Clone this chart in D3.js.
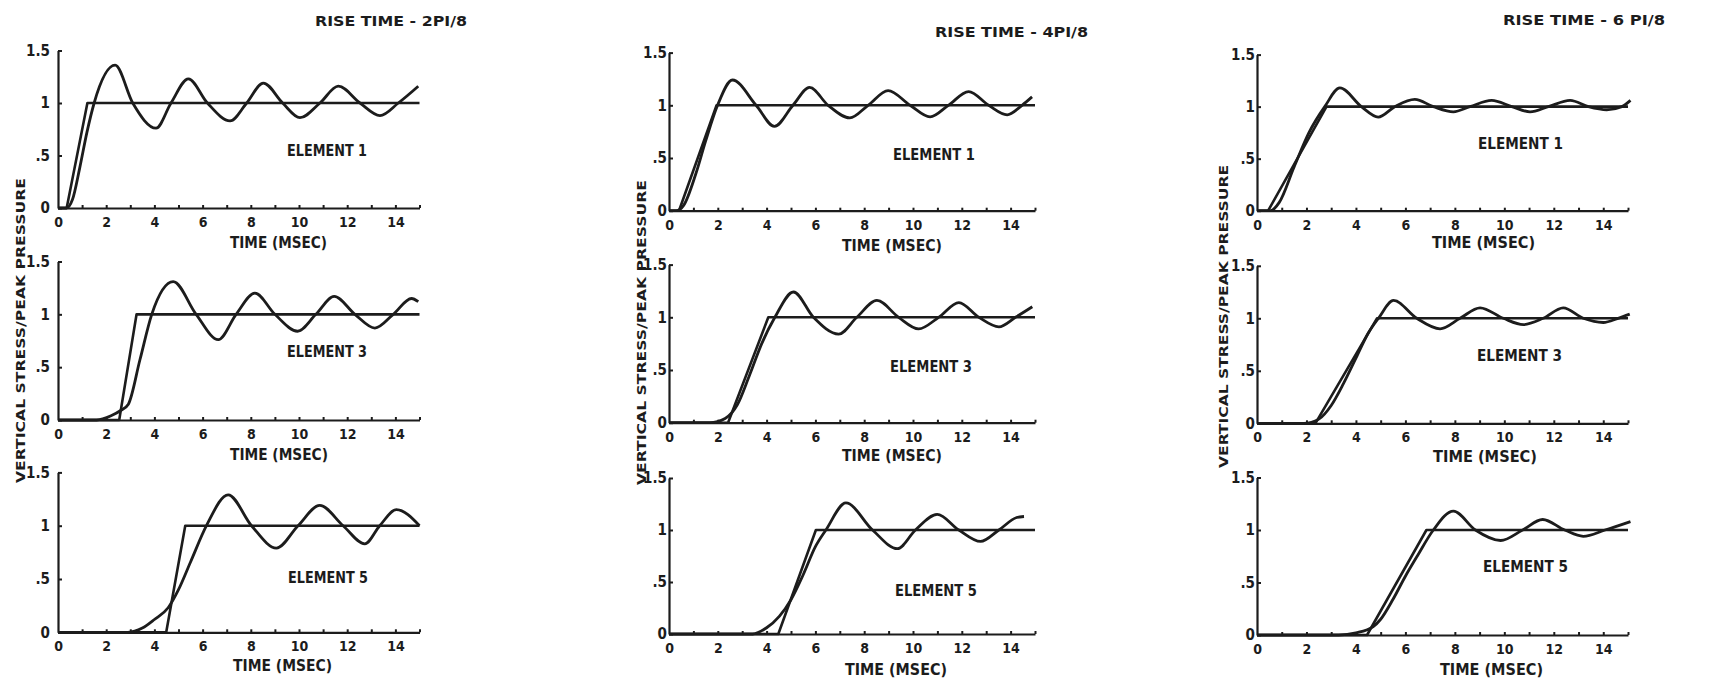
<!DOCTYPE html>
<html><head><meta charset="utf-8">
<script src="https://cdn.jsdelivr.net/npm/d3@7"></script>
<style>
html,body{margin:0;padding:0;background:#fff;}
svg{display:block;}
text{font-family:"DejaVu Sans Condensed","DejaVu Sans",sans-serif;font-weight:bold;fill:#1c1c1c;}
</style></head><body>
<svg id="c" width="1723" height="682"></svg>
<script>
// ---------- DATA ----------
const riseTimeTitles = ["RISE TIME - 2PI/8", "RISE TIME - 4PI/8", "RISE TIME - 6 PI/8"];
const elementNames = ["ELEMENT 1", "ELEMENT 3", "ELEMENT 5"];
const yAxisTitle = "VERTICAL STRESS/PEAK PRESSURE";
const xAxisTitle = "TIME (MSEC)";
const timeMinorTicks = [1,2,3,4,5,6,7,8,9,10,11,12,13,14,15];
const timeTickLabels = [0,2,4,6,8,10,12,14];
const yTickValues = [0, 0.5, 1, 1.5];
const yTickLabels = ["0", ".5", "1", "1.5"];

// ramp (applied pressure) [time msec, stress/peak]
const ramp2pi_e1 = [[0,0],[0.36,0],[1.22,1],[15,1]];
const ramp2pi_e3 = [[0,0],[2.54,0],[3.26,1],[15,1]];
const ramp2pi_e5 = [[0,0],[4.49,0],[5.28,1],[15,1]];
const ramp4pi_e1 = [[0,0],[0.41,0],[1.95,1],[15,1]];
const ramp4pi_e3 = [[0,0],[2.42,0],[4.07,1],[15,1]];
const ramp4pi_e5 = [[0,0],[4.48,0],[6.02,1],[15,1]];
const ramp6pi_e1 = [[0,0],[0.45,0],[2.81,1],[15,1]];
const ramp6pi_e3 = [[0,0],[2.36,0],[4.85,1],[15,1]];
const ramp6pi_e5 = [[0,0],[4.45,0],[6.85,1],[15,1]];

// computed vertical stress response
const resp2pi_e1 = [[0,0],[0.35,0],[0.6,0.08],[0.9,0.38],[1.2,0.72],[1.5,1.0],[2.37,1.36],[3.1,1.0],[4.07,0.76],[4.69,1.0],[5.41,1.23],[6.2,1.0],[7.14,0.83],[7.83,1.0],[8.52,1.19],[9.32,1.0],[10.04,0.86],[10.87,1.0],[11.63,1.16],[12.53,1.0],[13.36,0.88],[14.12,1.0],[14.95,1.16]];
const resp2pi_e3 = [[0,0],[1.6,0],[2.2,0.04],[2.6,0.09],[2.92,0.15],[3.4,0.57],[3.89,1.0],[4.78,1.31],[5.73,1.0],[6.65,0.76],[7.39,1.0],[8.17,1.2],[9.0,1.0],[9.94,0.84],[10.7,1.0],[11.46,1.17],[12.32,1.0],[13.15,0.87],[13.91,1.0],[14.67,1.15],[14.95,1.12]];
const resp2pi_e5 = [[0,0],[2.9,0],[3.5,0.04],[4.0,0.12],[4.57,0.23],[5.0,0.4],[5.5,0.66],[6.16,1.0],[7.06,1.29],[8.03,1.0],[9.06,0.79],[9.96,1.0],[10.86,1.19],[11.83,1.0],[12.73,0.83],[13.35,1.0],[14.04,1.15],[15.0,1.0]];
const resp4pi_e1 = [[0,0],[0.3,0],[0.6,0.05],[1.1,0.35],[1.5,0.66],[1.99,1.0],[2.6,1.24],[3.57,1.0],[4.32,0.80],[5.08,1.0],[5.76,1.17],[6.52,1.0],[7.41,0.88],[8.16,1.0],[8.98,1.14],[9.88,1.0],[10.7,0.89],[11.45,1.0],[12.28,1.13],[13.1,1.0],[13.86,0.91],[14.47,1.0],[14.88,1.08]];
const resp4pi_e3 = [[0,0],[1.67,0],[2.3,0.04],[2.8,0.17],[3.3,0.45],[3.8,0.75],[4.34,1.0],[5.1,1.24],[5.92,1.0],[6.95,0.84],[7.7,1.0],[8.52,1.16],[9.41,1.0],[10.23,0.89],[11.05,1.0],[11.88,1.14],[12.7,1.0],[13.52,0.91],[14.2,1.0],[14.89,1.10]];
const resp4pi_e5 = [[0,0],[3.43,0],[4.0,0.06],[4.52,0.17],[5.0,0.33],[5.5,0.57],[6.0,0.84],[6.43,1.0],[7.25,1.26],[8.34,1.0],[9.36,0.82],[10.1,1.0],[10.99,1.15],[11.88,1.0],[12.77,0.89],[13.52,1.0],[14.25,1.12],[14.55,1.13]];
const resp6pi_e1 = [[0,0],[0.55,0],[0.9,0.08],[1.5,0.42],[2.1,0.75],[2.74,1.0],[3.35,1.18],[4.22,1.0],[4.9,0.90],[5.57,1.0],[6.38,1.07],[7.13,1.0],[7.94,0.95],[8.61,1.0],[9.49,1.06],[10.3,1.0],[11.04,0.95],[11.78,1.0],[12.66,1.06],[13.4,1.0],[14.14,0.97],[14.75,1.0],[15.1,1.06]];
const resp6pi_e3 = [[0,0],[1.9,0],[2.5,0.04],[3.0,0.17],[3.5,0.38],[4.0,0.62],[4.5,0.86],[4.91,1.0],[5.52,1.17],[6.46,1.0],[7.4,0.90],[8.21,1.0],[9.02,1.10],[9.96,1.0],[10.77,0.94],[11.57,1.0],[12.38,1.10],[13.19,1.0],[14.0,0.96],[14.6,1.0],[15.07,1.04]];
const resp6pi_e5 = [[0,0],[3.3,0],[4.0,0.02],[4.7,0.08],[5.0,0.15],[5.5,0.34],[6.0,0.56],[6.5,0.76],[7.13,1.0],[7.94,1.18],[8.83,1.0],[9.85,0.90],[10.74,1.0],[11.55,1.10],[12.44,1.0],[13.19,0.94],[14.07,1.0],[15.1,1.08]];

const rampSeries = [[ramp2pi_e1,ramp2pi_e3,ramp2pi_e5],[ramp4pi_e1,ramp4pi_e3,ramp4pi_e5],[ramp6pi_e1,ramp6pi_e3,ramp6pi_e5]];
const respSeries = [[resp2pi_e1,resp2pi_e3,resp2pi_e5],[resp4pi_e1,resp4pi_e3,resp4pi_e5],[resp6pi_e1,resp6pi_e3,resp6pi_e5]];

// ---------- LAYOUT ----------
const colX = [[58,419.5],[669,1035],[1257,1628]];
const panelY = [
  [[208,50.5],[420,261.5],[632.3,472.4]],
  [[210.7,52.6],[422.7,264.6],[634,478]],
  [[210.7,54.6],[423.3,265.8],[635,477.5]]
];
const yLabelGap = [8,2,2];
const titlePos = [[315,152,26],[935,153,37],[1503,162,25]];
const timeLabelPos = [
  [[230,97,248],[230,98,460],[233,99,671]],
  [[842,100,251],[842,100,461],[845,102,675]],
  [[1432,103,248],[1433,104,462],[1440,103,675]]
];
const elemLabelPos = [
  [[287,80,156],[287,80,357],[288,80,583]],
  [[893,82,160],[890,82,372],[895,82,596]],
  [[1478,85,149],[1477,85,361],[1483,85,572]]
];
const yTitlePos = [[21,178,483],[642,180,485],[1224,165,468]];

const ink = "#1c1c1c";
const svg = d3.select("#c");
svg.append("rect").attr("width",1723).attr("height",682).attr("fill","#fff");

for (let c = 0; c < 3; c++) {
  const x = d3.scaleLinear().domain([0,15]).range(colX[c]);
  svg.append("text").attr("x",titlePos[c][0]).attr("y",titlePos[c][2])
    .attr("textLength",titlePos[c][1]).attr("lengthAdjust","spacingAndGlyphs")
    .style("font-size","14px").text(riseTimeTitles[c]);
  const yt = yTitlePos[c];
  svg.append("text")
    .attr("transform",`translate(${yt[0]+4},${(yt[1]+yt[2])/2}) rotate(-90)`)
    .attr("text-anchor","middle")
    .attr("textLength",yt[2]-yt[1]).attr("lengthAdjust","spacingAndGlyphs")
    .style("font-size","12px").text(yAxisTitle);

  for (let r = 0; r < 3; r++) {
    const y = d3.scaleLinear().domain([0,1.5]).range(panelY[c][r]);
    const g = svg.append("g");

    const gx = g.append("g").attr("transform",`translate(0,${y(0)})`)
      .call(d3.axisBottom(x).tickValues(timeMinorTicks).tickSizeInner(-3).tickSizeOuter(0).tickFormat(""));
    gx.select(".domain").attr("stroke",ink).attr("stroke-width",2.2);
    gx.selectAll(".tick line").attr("stroke",ink).attr("stroke-width",2);
    const gxl = g.append("g").attr("transform",`translate(0,${y(0)})`)
      .call(d3.axisBottom(x).tickValues(timeTickLabels).tickSize(0).tickPadding(9));
    gxl.select(".domain").remove();
    gxl.selectAll("text").attr("fill",ink).style("font-size","14px")
      .style("font-family","'DejaVu Sans Condensed',sans-serif").style("font-weight","bold");

    const gy = g.append("g").attr("transform",`translate(${x(0)},0)`)
      .call(d3.axisLeft(y).tickValues(yTickValues).tickSizeInner(-4).tickSizeOuter(0)
        .tickPadding(yLabelGap[c]).tickFormat((d,i)=>yTickLabels[i]));
    gy.select(".domain").attr("stroke",ink).attr("stroke-width",2.2);
    gy.selectAll(".tick line").attr("stroke",ink).attr("stroke-width",2);
    gy.selectAll("text").attr("fill",ink).style("font-size","15px")
      .style("font-family","'DejaVu Sans Condensed',sans-serif").style("font-weight","bold");

    const lin = d3.line().x(d=>x(d[0])).y(d=>y(d[1]));
    g.append("path").datum(rampSeries[c][r]).attr("d",lin)
      .attr("fill","none").attr("stroke",ink).attr("stroke-width",2.6).attr("stroke-linejoin","round");
    const crv = d3.line().x(d=>x(d[0])).y(d=>y(d[1])).curve(d3.curveMonotoneX);
    g.append("path").datum(respSeries[c][r]).attr("d",crv)
      .attr("fill","none").attr("stroke",ink).attr("stroke-width",2.8).attr("stroke-linejoin","round");

    const tl = timeLabelPos[c][r];
    g.append("text").attr("x",tl[0]).attr("y",tl[2]).attr("textLength",tl[1])
      .attr("lengthAdjust","spacingAndGlyphs").style("font-size","15px").text(xAxisTitle);
    const el = elemLabelPos[c][r];
    g.append("text").attr("x",el[0]).attr("y",el[2]).attr("textLength",el[1])
      .attr("lengthAdjust","spacingAndGlyphs").style("font-size","15px").text(elementNames[r]);
  }
}
</script></body></html>
